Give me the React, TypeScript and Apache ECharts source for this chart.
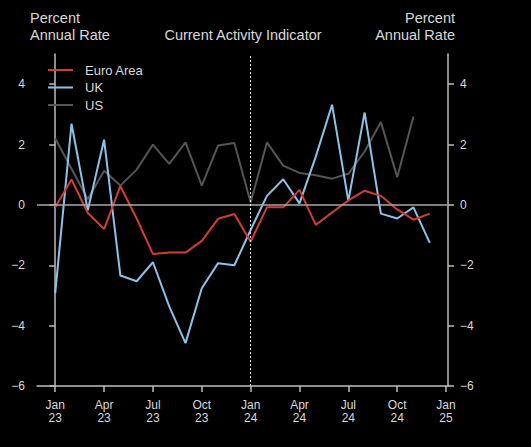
import React, { useEffect, useRef } from "react";
import * as echarts from "echarts";

const monthLabels = ["Jan\n23", "Apr\n23", "Jul\n23", "Oct\n23", "Jan\n24", "Apr\n24", "Jul\n24", "Oct\n24", "Jan\n25"];
const tickMonths = [0, 3, 6, 9, 12, 15, 18, 21, 24];
const yTicks = [-6, -4, -2, 0, 2, 4];

const euroArea = [-0.08, 0.84, -0.27, -0.8, 0.62, -0.45, -1.63, -1.58, -1.58, -1.19, -0.46, -0.3, -1.22, -0.08, -0.08, 0.5, -0.66, -0.25, 0.15, 0.47, 0.3, -0.15, -0.49, -0.29];
const uk = [-2.92, 2.69, -0.18, 2.16, -2.34, -2.53, -1.9, -3.36, -4.58, -2.76, -1.93, -2.0, -0.83, 0.3, 0.85, 0.05, 1.6, 3.32, 0.13, 3.06, -0.29, -0.45, -0.08, -1.26];
const us = [2.2, 1.2, 0.19, 1.13, 0.64, 1.17, 2.0, 1.36, 2.07, 0.64, 1.97, 2.05, 0.08, 2.07, 1.3, 1.06, 0.98, 0.87, 1.03, 1.77, 2.75, 0.92, 2.93];

const FONT = "Liberation Sans, Arial, sans-serif";
const TXT = "#d9d9d9";
const AX = "#bdbdbd";

const toPairs = (arr: number[]) => arr.map((v, i) => [i, v]);
const fmtY = (v: number) => (v < 0 ? "\u2212" + Math.abs(v) : String(v));

const titleText = (text: string, x: number, y: number, align: string) => ({
  type: "text",
  x,
  y,
  silent: true,
  style: { text, fill: TXT, fontSize: 14.5, fontFamily: FONT, align, verticalAlign: "middle" },
});

export default function App() {
  const ref = useRef<HTMLDivElement>(null);
  useEffect(() => {
    if (!ref.current) return;
    const chart = echarts.init(ref.current, null, { renderer: "svg" });
    const yAxisCommon = {
      type: "value",
      min: -6,
      max: 5,
      interval: 2,
      axisLine: { show: true, lineStyle: { color: AX, width: 1.5 } },
      axisTick: { show: true, length: 6, customValues: yTicks, lineStyle: { color: AX, width: 1.5 } },
      axisLabel: { customValues: yTicks, color: TXT, fontSize: 12, fontFamily: FONT, margin: 12, formatter: fmtY },
      splitLine: { show: false },
    };
    chart.setOption({
      animation: false,
      backgroundColor: "#000",
      textStyle: { fontFamily: FONT },
      grid: { left: 37, right: 83, top: 54, bottom: 61 },
      graphic: [
        titleText("Percent", 30, 18, "left"),
        titleText("Annual Rate", 30, 35, "left"),
        titleText("Current Activity Indicator", 243, 35, "center"),
        titleText("Percent", 455, 18, "right"),
        titleText("Annual Rate", 455, 35, "right"),
      ],
      legend: {
        orient: "vertical",
        left: 43,
        top: 58.5,
        icon: "rect",
        itemWidth: 25,
        itemHeight: 2,
        itemGap: 4.5,
        textStyle: { color: TXT, fontSize: 13, fontFamily: FONT, padding: [0, 0, 0, 7], lineHeight: 13 },
        data: ["Euro Area", "UK", "US"],
      },
      xAxis: {
        type: "value",
        min: -1.12,
        max: 24.12,
        axisLine: { show: true, onZero: false, lineStyle: { color: AX, width: 1.5 } },
        axisTick: { show: true, length: 6, customValues: tickMonths, lineStyle: { color: AX, width: 1.5 } },
        axisLabel: {
          customValues: tickMonths,
          color: TXT,
          fontSize: 12,
          fontFamily: FONT,
          lineHeight: 13,
          margin: 12,
          formatter: (v: number) => monthLabels[tickMonths.indexOf(v)] ?? "",
        },
        splitLine: { show: false },
      },
      yAxis: [
        { ...yAxisCommon, position: "left" },
        { ...yAxisCommon, position: "right" },
      ],
      series: [
        {
          name: "Euro Area",
          type: "line",
          data: toPairs(euroArea),
          showSymbol: false,
          symbol: "none",
          color: "#d23c38",
          lineStyle: { width: 2, color: "#d23c38" },
          z: 4,
          markLine: {
            silent: true,
            symbol: "none",
            label: { show: false },
            data: [
              { yAxis: 0, lineStyle: { color: "#a8a8a8", width: 1.5, type: "solid" } },
              { xAxis: 12, lineStyle: { color: "#e0e0e0", width: 1, type: [2, 2] } },
            ],
          },
        },
        {
          name: "UK",
          type: "line",
          data: toPairs(uk),
          showSymbol: false,
          symbol: "none",
          color: "#8dc2e8",
          lineStyle: { width: 2, color: "#8dc2e8" },
          z: 3,
        },
        {
          name: "US",
          type: "line",
          data: toPairs(us),
          showSymbol: false,
          symbol: "none",
          color: "#555555",
          lineStyle: { width: 2, color: "#555555" },
          z: 2,
        },
      ],
    });
    return () => chart.dispose();
  }, []);
  return <div ref={ref} style={{ position: "fixed", left: 0, top: 0, width: 531, height: 447 }} />;
}
